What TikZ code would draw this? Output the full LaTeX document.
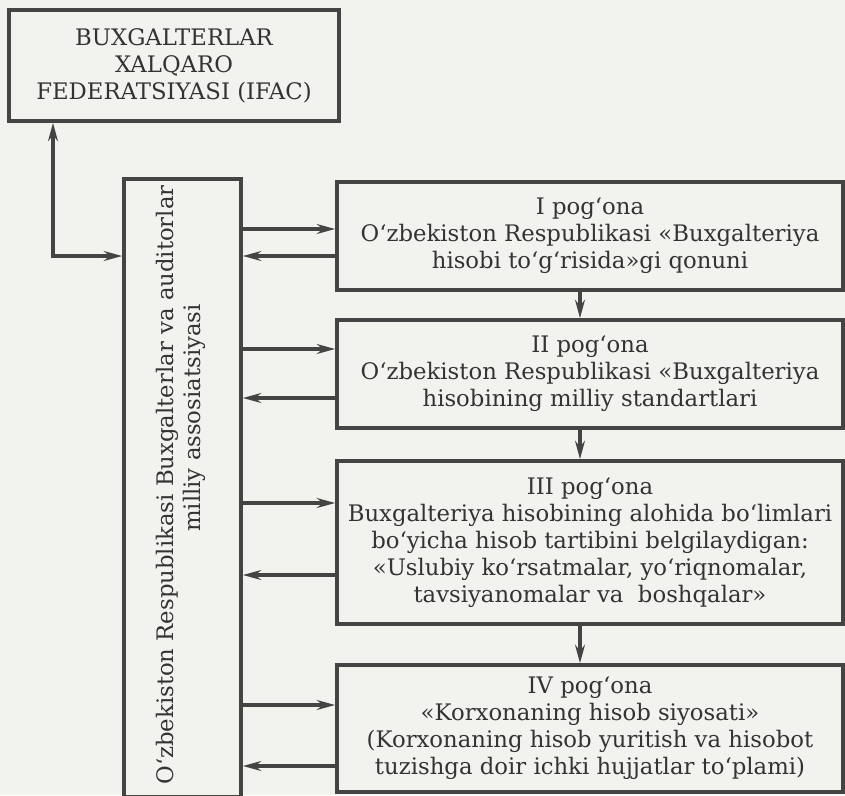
\documentclass[tikz,border=0pt]{standalone}
\usepackage{fontspec}
\setmainfont{DejaVu Serif}
\usetikzlibrary{arrows.meta}
\definecolor{ink}{RGB}{68,68,68}
\definecolor{paper}{RGB}{242,242,239}

\begin{document}
\begin{tikzpicture}[
    >={Stealth[length=13pt, width=7pt]},
    txt/.style={font=\fontsize{16.2}{19.2}\selectfont, text=black!80},
    orgbox/.style={draw=ink, rectangle, line width=2.6pt, txt, align=center, inner sep=1pt},
    tierbox/.style={orgbox, minimum width=12.65cm},
    link/.style={draw=ink, line width=2.2pt}
]

% Page, scan-like paper colour
\useasboundingbox (0,0) rectangle (21.125,-19.875);
\fill[paper] (0,0) rectangle (21.125,-19.875);

% International federation (top left)
\node[orgbox, minimum width=8.25cm, minimum height=2.775cm] (ifac) at (4.35,-1.6375)
    {BUXGALTERLAR\\XALQARO\\FEDERATSIYASI (IFAC)};

% National association - tall box, text turned upwards
\node[orgbox, minimum width=2.925cm, minimum height=15.45cm] (assoc) at (4.5625,-12.2) {};
\node[txt, rotate=90] (assoc1) at (4.175,-12.125) {O‘zbekiston Respublikasi Buxgalterlar va auditorlar};
\node[txt, rotate=90] (assoc2) at (4.85,-10.45) {milliy assosiatsiyasi};

% Four tiers of regulation
\node[tierbox, minimum height=2.7cm] (tierI) at (14.75,-5.9)
    {I pog‘ona\\O‘zbekiston Respublikasi «Buxgalteriya\\hisobi to‘g‘risida»gi qonuni};
\node[tierbox, minimum height=2.7cm] (tierII) at (14.75,-9.35)
    {II pog‘ona\\O‘zbekiston Respublikasi «Buxgalteriya\\hisobining milliy standartlari};
\node[tierbox, minimum height=4.075cm] (tierIII) at (14.75,-13.5625)
    {III pog‘ona\\Buxgalteriya hisobining alohida bo‘limlari\\bo‘yicha hisob tartibini belgilaydigan:\\«Uslubiy ko‘rsatmalar, yo‘riqnomalar,\\tavsiyanomalar va\ \ boshqalar»};
\node[tierbox, minimum height=3.175cm] (tierIV) at (14.75,-18.2125)
    {IV pog‘ona\\«Korxonaning hisob siyosati»\\(Korxonaning hisob yuritish va hisobot\\tuzishga doir ichki hujjatlar to‘plami)};

% Federation <-> association
\coordinate (bend) at (1.325,-6.4);
\draw[link, <->] (ifac.south -| bend) -- (bend) -- (assoc.west |- bend);

% Association <-> each tier
\foreach \t/\yin/\yout in {tierI/-5.725/-6.4, tierII/-8.725/-9.95, tierIII/-12.575/-14.375, tierIV/-17.625/-19.15} {
    \draw[link, ->] (assoc.east |- 0,\yin) -- (\t.west |- 0,\yin);
    \draw[link, ->] (\t.west |- 0,\yout) -- (assoc.east |- 0,\yout);
}

% Tier to tier
\foreach \a/\b in {tierI/tierII, tierII/tierIII, tierIII/tierIV}
    \draw[link, ->] (\a.south -| 14.5,0) -- (\b.north -| 14.5,0);

\end{tikzpicture}
\end{document}
